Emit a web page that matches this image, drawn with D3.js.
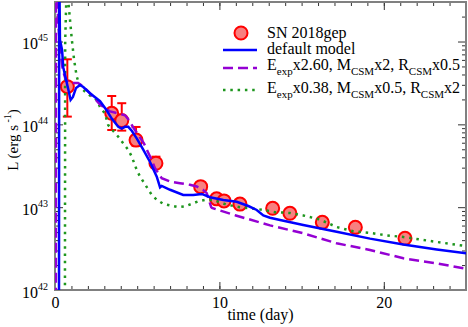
<!DOCTYPE html>
<html><head><meta charset="utf-8">
<script src="https://cdn.jsdelivr.net/npm/d3@7"></script>
<style>
body{margin:0;background:#fff}
text{font-family:"Liberation Serif","Times New Roman",serif;fill:#000}
</style>
</head><body>
<svg id="chart" width="468" height="327"></svg>
<script>
// ---- observed data (SN 2018gep) ----
const obsT = [0.75, 3.45, 4.06, 4.93, 6.14, 8.86, 9.83, 10.28, 11.25, 13.24, 14.29, 16.26, 18.27, 21.29];
const obsL = [2.85e44, 1.36e44, 1.11e44, 6.45e43, 3.39e43, 1.77e43, 1.26e43, 1.19e43, 1.09e43, 9.7e42, 8.43e42, 6.56e42, 5.71e42, 4.21e42];
const obsHi = [6.1e44, 2.2e44, 1.8e44, 9.3e43, 4.07e43, null, null, null, null, null, null, null, null, null];
const obsLo = [1.24e44, 8.55e43, 8.4e43, 5.5e43, 3.1e43, null, null, null, null, null, null, null, null, null];

// ---- default model (time in days, log10 L) ----
const defT = [0.24, 0.255, 0.27, 0.30, 0.43, 0.50, 0.67, 0.81, 0.95, 1.09, 1.28, 1.52, 1.72, 2.13, 2.74, 3.14, 3.45, 3.85, 4.06, 4.26, 4.46, 4.68, 4.97, 5.35, 5.78, 6.19, 6.39, 6.49, 7.0, 7.8, 8.41, 8.92, 9.43, 10.24, 11.05, 11.76, 12.27, 12.67, 13.08, 13.69, 15.1, 17.13, 19.16, 21.19, 23.22, 25.04];
const defLogL = [41.0, 45.7, 45.7, 45.02, 44.90, 44.69, 44.54, 44.42, 44.295, 44.33, 44.44, 44.476, 44.45, 44.376, 44.28, 44.17, 44.07, 43.97, 43.95, 43.97, 43.97, 43.92, 43.83, 43.70, 43.546, 43.368, 43.24, 43.256, 43.21, 43.147, 43.147, 43.16, 43.12, 43.087, 43.066, 43.014, 42.966, 42.90, 42.873, 42.845, 42.785, 42.704, 42.62, 42.55, 42.49, 42.443];

// ---- E_exp x2.60, M_CSM x2, R_CSM x0.5 ----
const m1T = [0.05, 0.06, 0.09, 0.2, 0.35, 0.47, 0.65, 0.85, 1.1, 1.4, 1.7, 2.1, 2.74, 3.3, 3.9, 4.26, 4.5, 4.8, 5.41, 5.88, 6.08, 6.35, 6.49, 7.0, 7.6, 8.2, 8.62, 9.0, 9.23, 9.5, 9.55, 11.0, 13.08, 15.1, 17.13, 19.16, 21.19, 23.22, 25.04];
const m1LogL = [41.0, 45.7, 45.7, 45.2, 44.85, 44.66, 44.54, 44.5, 44.5, 44.5, 44.46, 44.38, 44.24, 44.16, 44.13, 44.11, 44.05, 43.95, 43.77, 43.57, 43.47, 43.39, 43.35, 43.31, 43.29, 43.27, 43.25, 43.21, 43.17, 43.0, 42.99, 42.9, 42.78, 42.685, 42.564, 42.483, 42.383, 42.322, 42.254];

// ---- E_exp x0.38, M_CSM x0.5, R_CSM x2 ----
const m2T = [0.6, 0.62, 0.7, 0.81, 0.91, 1.02, 1.16, 1.32, 1.52, 1.93, 2.54, 2.74, 3.04, 3.24, 3.85, 4.46, 4.67, 4.97, 5.17, 5.88, 6.19, 6.59, 7.5, 7.9, 8.31, 8.71, 9.12, 9.63, 10.44, 11.25, 11.76, 12.57, 13.38, 14.29, 15.1, 16.12, 17.13, 18.14, 19.16, 20.17, 21.19, 22.2, 23.22, 25.04];
const m2LogL = [41.0, 45.0, 45.6, 45.48, 45.27, 45.03, 44.78, 44.578, 44.455, 44.375, 44.295, 44.21, 44.13, 43.99, 43.85, 43.69, 43.61, 43.45, 43.37, 43.15, 43.09, 43.04, 43.0, 43.01, 43.04, 43.07, 43.087, 43.087, 43.03, 43.0, 42.99, 42.97, 42.94, 42.93, 42.9, 42.85, 42.76, 42.71, 42.69, 42.66, 42.64, 42.61, 42.58, 42.53];

// ---- axes ticks ----
const xMajor = [0, 10, 20];
const xMinor = d3.range(0, 26, 1);
const yMajor = [1e42, 1e43, 1e44, 1e45];
const yMajorLabels = ["42", "43", "44", "45"];
const yMinor = [];
[42, 43, 44, 45].forEach(e => { for (let k = 2; k <= 9; k++) { const v = k * Math.pow(10, e); if (v <= 3e45) yMinor.push(v); } });

const legendLabels = ["SN 2018gep", "default model"];

const svg = d3.select("#chart");
const L = 55, R = 466, T = 2, B = 290;
const x = d3.scaleLinear().domain([0, 25]).range([L, R]);
const y = d3.scaleLog().domain([1e42, 3e45]).range([B, T]);

svg.append("defs").append("clipPath").attr("id", "clip")
  .append("rect").attr("x", L).attr("y", T).attr("width", R - L).attr("height", B - T);

// axes
const tickCol = "#333", frameCol = "#808080";
function styleAxis(g) {
  g.select(".domain").remove();
  g.selectAll(".tick line").attr("stroke", tickCol).attr("stroke-width", 1);
}
svg.append("g").attr("transform", `translate(0,${B})`)
  .call(d3.axisBottom(x).tickValues(xMinor).tickSize(-4).tickFormat("")).call(styleAxis);
svg.append("g").attr("transform", `translate(0,${B})`)
  .call(d3.axisBottom(x).tickValues(xMajor).tickSize(-8).tickPadding(7).tickFormat(d3.format("d")))
  .call(styleAxis)
  .call(g => g.selectAll("text").attr("font-size", 16).attr("font-family", "Liberation Serif").attr("fill", "#000"));
svg.append("g").attr("transform", `translate(0,${T})`)
  .call(d3.axisTop(x).tickValues(xMinor).tickSize(-4).tickFormat("")).call(styleAxis);
svg.append("g").attr("transform", `translate(0,${T})`)
  .call(d3.axisTop(x).tickValues(xMajor).tickSize(-8).tickFormat("")).call(styleAxis);

svg.append("g").attr("transform", `translate(${L},0)`)
  .call(d3.axisLeft(y).tickValues(yMinor).tickSize(-4).tickFormat("")).call(styleAxis);
const yl = svg.append("g").attr("transform", `translate(${L},0)`)
  .call(d3.axisLeft(y).tickValues(yMajor).tickSize(-8).tickPadding(7).tickFormat(""))
  .call(styleAxis);
yl.selectAll(".tick").each(function (d, i) {
  const t = d3.select(this).select("text");
  t.attr("text-anchor", "end").attr("x", -7).attr("dy", null).attr("y", 7)
    .attr("font-size", 16).attr("font-family", "Liberation Serif").attr("fill", "#000");
  t.append("tspan").text("10");
  t.append("tspan").attr("font-size", 10).attr("dy", -8).text(yMajorLabels[i]);
});
svg.append("g").attr("transform", `translate(${R},0)`)
  .call(d3.axisRight(y).tickValues(yMinor).tickSize(-4).tickFormat("")).call(styleAxis);
svg.append("g").attr("transform", `translate(${R},0)`)
  .call(d3.axisRight(y).tickValues(yMajor).tickSize(-8).tickFormat("")).call(styleAxis);

// frame
svg.append("rect").attr("x", L).attr("y", T).attr("width", R - L).attr("height", B - T)
  .attr("fill", "none").attr("stroke", frameCol).attr("stroke-width", 2);

// axis titles
svg.append("text").attr("x", (L + R) / 2).attr("y", 320).attr("text-anchor", "middle")
  .attr("font-size", 16).text("time (day)");
const ylab = svg.append("text").attr("transform", "translate(18,140) rotate(-90)")
  .attr("text-anchor", "middle").attr("font-size", 15);
ylab.append("tspan").text("L (erg s");
ylab.append("tspan").attr("font-size", 10).attr("dy", -7).text(" -1");
ylab.append("tspan").attr("dy", 7).text(")");

const plot = svg.append("g").attr("clip-path", "url(#clip)");

// observations
const obs = obsT.map((t, i) => ({ t, L: obsL[i], hi: obsHi[i], lo: obsLo[i] }));
const eb = plot.append("g").selectAll("g").data(obs.filter(d => d.hi !== null)).join("g")
  .attr("stroke", "#ff0000").attr("stroke-width", 2);
eb.append("line").attr("x1", d => x(d.t)).attr("x2", d => x(d.t)).attr("y1", d => y(d.hi)).attr("y2", d => y(d.lo));
eb.append("line").attr("x1", d => x(d.t) - 4.5).attr("x2", d => x(d.t) + 4.5).attr("y1", d => y(d.hi)).attr("y2", d => y(d.hi));
eb.append("line").attr("x1", d => x(d.t) - 4.5).attr("x2", d => x(d.t) + 4.5).attr("y1", d => y(d.lo)).attr("y2", d => y(d.lo));
plot.append("g").selectAll("circle").data(obs).join("circle")
  .attr("cx", d => x(d.t)).attr("cy", d => y(d.L)).attr("r", 6.5)
  .attr("fill", "#f78080").attr("stroke", "#ff0000").attr("stroke-width", 2);

// model curves
const line = d3.line().x(d => x(d[0])).y(d => y(Math.pow(10, d[1])));
const blue = "#0000ff", purple = "#9400d3", green = "#1e961e";
plot.append("path").datum(m2T.map((t, i) => [t, m2LogL[i]])).attr("d", line)
  .attr("fill", "none").attr("stroke", green).attr("stroke-width", 2.5).attr("stroke-dasharray", "2.5,4.8");
plot.append("path").datum(m1T.map((t, i) => [t, m1LogL[i]])).attr("d", line)
  .attr("fill", "none").attr("stroke", purple).attr("stroke-width", 2.5).attr("stroke-dasharray", "10,5");
plot.append("path").datum(defT.map((t, i) => [t, defLogL[i]])).attr("d", line)
  .attr("fill", "none").attr("stroke", blue).attr("stroke-width", 2.5);

// legend
const lg = svg.append("g");
const lx0 = 223, lx1 = 257, tx = 267;
lg.append("circle").attr("cx", (lx0 + lx1) / 2 + 1).attr("cy", 33).attr("r", 6.5)
  .attr("fill", "#f78080").attr("stroke", "#ff0000").attr("stroke-width", 2);
lg.append("text").attr("x", tx).attr("y", 38).attr("font-size", 16).text(legendLabels[0]);
lg.append("line").attr("x1", lx0).attr("x2", lx1).attr("y1", 50).attr("y2", 50).attr("stroke", blue).attr("stroke-width", 2.5);
lg.append("text").attr("x", tx).attr("y", 54).attr("font-size", 16).text(legendLabels[1]);
lg.append("line").attr("x1", lx0).attr("x2", lx1).attr("y1", 68).attr("y2", 68).attr("stroke", purple).attr("stroke-width", 2.5).attr("stroke-dasharray", "10,5");
lg.append("line").attr("x1", lx0).attr("x2", lx1).attr("y1", 90).attr("y2", 90).attr("stroke", green).attr("stroke-width", 2.5).attr("stroke-dasharray", "2.5,4.8");

function modelLabel(yb, parts) {
  const t = lg.append("text").attr("x", tx).attr("y", yb).attr("font-size", 16);
  parts.forEach(p => {
    if (p.sub) t.append("tspan").attr("font-size", 11).attr("dy", 5).text(p.sub);
    else t.append("tspan").attr("dy", p.back ? -5 : 0).text(p.txt);
  });
}
modelLabel(70, [{ txt: "E" }, { sub: "exp" }, { txt: "x2.60, M", back: true }, { sub: "CSM" }, { txt: "x2, R", back: true }, { sub: "CSM" }, { txt: "x0.5", back: true }]);
modelLabel(93, [{ txt: "E" }, { sub: "exp" }, { txt: "x0.38, M", back: true }, { sub: "CSM" }, { txt: "x0.5, R", back: true }, { sub: "CSM" }, { txt: "x2", back: true }]);
</script>
</body></html>
